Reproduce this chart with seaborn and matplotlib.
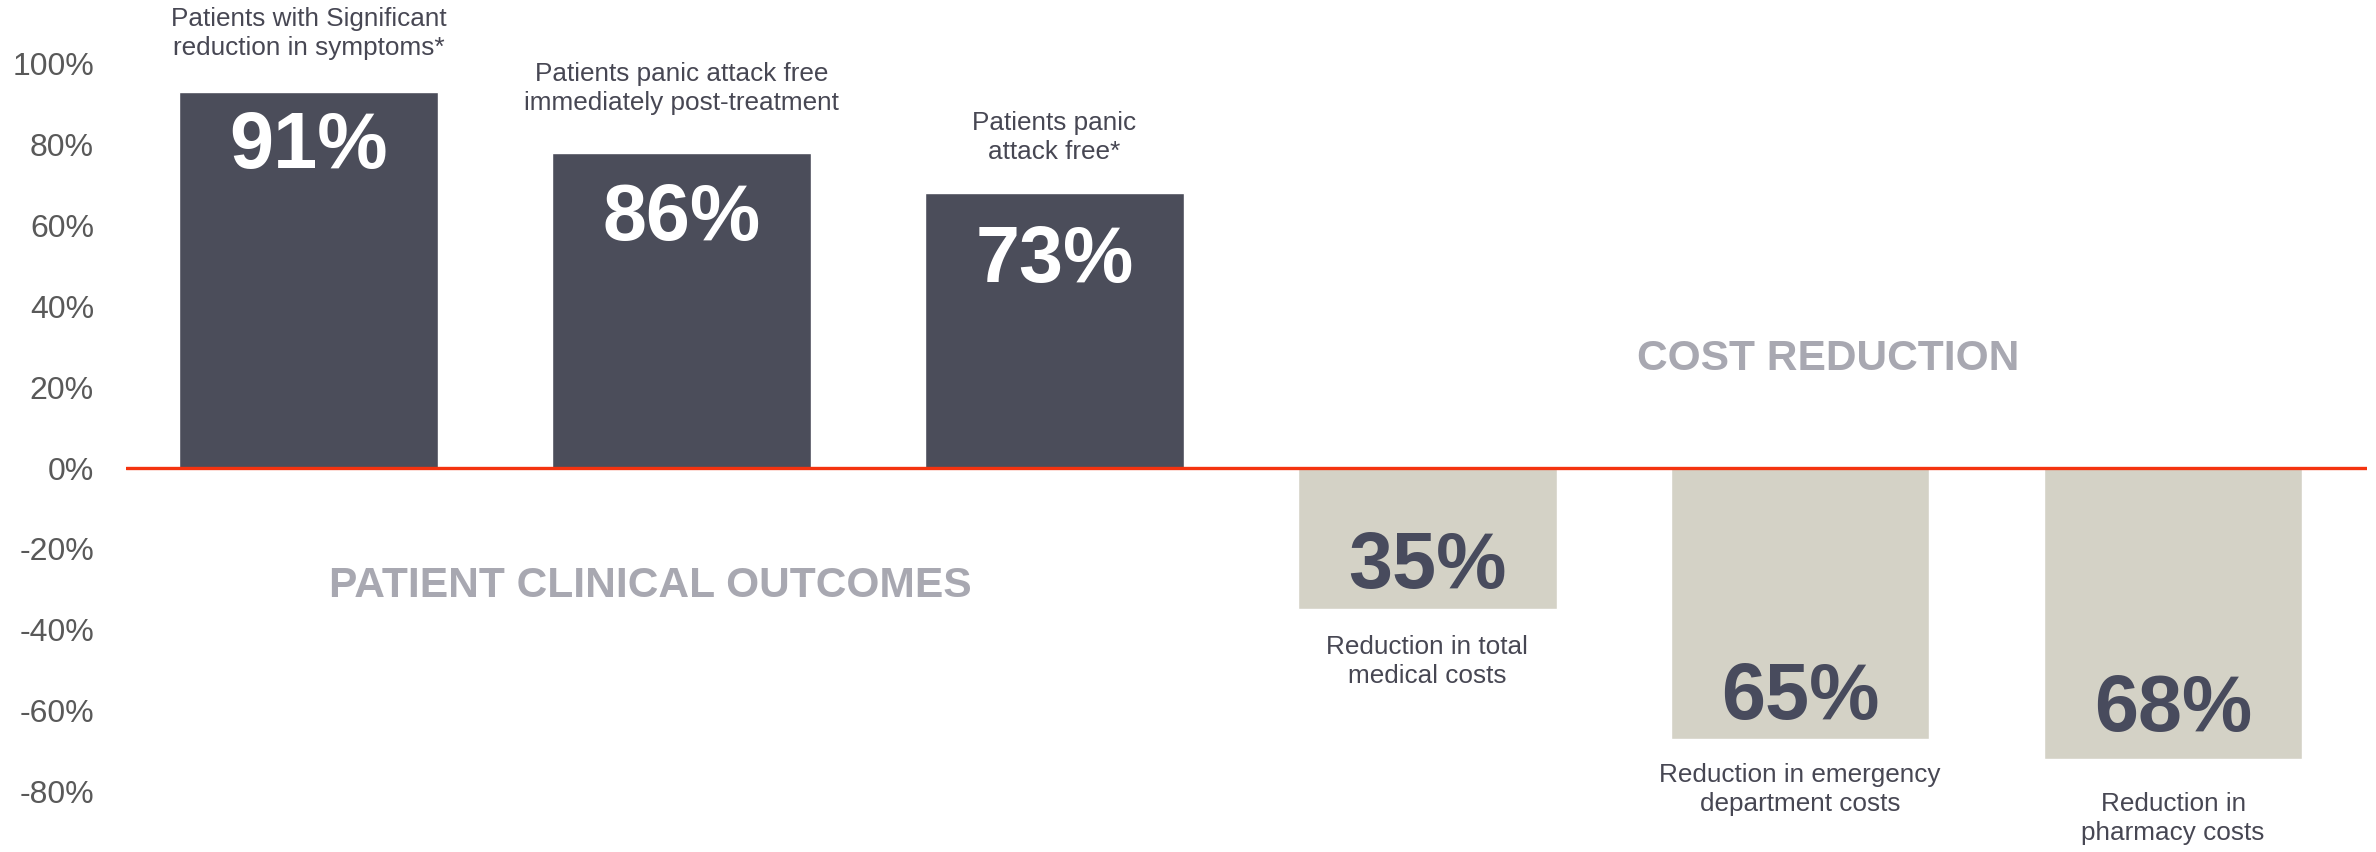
import matplotlib
matplotlib.use("Agg")
import matplotlib.pyplot as plt
import seaborn as sns
import pandas as pd

# ---- data ----
categories = [
    "Patients with Significant\nreduction in symptoms*",
    "Patients panic attack free\nimmediately post-treatment",
    "Patients panic\nattack free*",
    "Reduction in total\nmedical costs",
    "Reduction in emergency\ndepartment costs",
    "Reduction in\npharmacy costs",
]
bar_heights = [93, 78, 68, -35, -67, -72]          # drawn bar lengths (%)
value_labels = ["91%", "86%", "73%", "35%", "65%", "68%"]  # printed numbers
groups = ["clinical", "clinical", "clinical", "cost", "cost", "cost"]
yticks = [-80, -60, -40, -20, 0, 20, 40, 60, 80, 100]
section_titles = ["PATIENT CLINICAL OUTCOMES", "COST REDUCTION"]

# layout offsets (in axis units) for the in-bar numbers and the captions
num_off = [12.3, 15.0, 15.4, 12.0, 11.6, 13.5]
cap_off = [14.6, 15.9, 13.7, 12.9, 12.6, 14.8]

DARK = "#484B5D"
LIGHT = "#D6D3C4"
RED = "#F4330F"

sns.set_theme(style="white")
plt.rcParams["font.family"] = ["Liberation Sans", "DejaVu Sans"]

df = pd.DataFrame({"cat": categories, "h": bar_heights, "grp": groups})

fig = plt.figure(figsize=(23.76, 8.52), dpi=100)
ax = fig.add_axes([0.053, 0.0, 0.9432, 1.0])

sns.barplot(data=df, x="cat", y="h", hue="grp",
            palette={"clinical": DARK, "cost": LIGHT},
            width=0.693, dodge=False, legend=False, ax=ax, zorder=2)

ax.set_xlim(-0.49, 5.52)
ax.set_ylim(-95, 115.8)
ax.axhline(0, color=RED, lw=2.4, zorder=3)

for i, (h, lab, cat, g) in enumerate(zip(bar_heights, value_labels, categories, groups)):
    s = 1 if h > 0 else -1
    ax.text(i, h - s * num_off[i] - 1.5, lab, ha="center", va="center",
            fontsize=57, fontweight="bold",
            color="white" if g == "clinical" else DARK, zorder=4)
    ax.text(i, h + s * cap_off[i], cat, ha="center", va="center",
            fontsize=18.8, color="#474753", linespacing=1.25, zorder=4)

ax.text(0.916, -29.2, section_titles[0], ha="center", va="center",
        fontsize=30.6, fontweight="bold", color="#A8A8B1")
ax.text(4.074, 27.0, section_titles[1], ha="center", va="center",
        fontsize=30.6, fontweight="bold", color="#A8A8B1")

ax.set_yticks(yticks)
ax.set_yticklabels([f"{t}%" for t in yticks])
ax.tick_params(axis="y", length=0, pad=23, labelsize=23, labelcolor="#595959")
ax.set_xticks([])
ax.set_xlabel("")
ax.set_ylabel("")
for sp in ax.spines.values():
    sp.set_visible(False)

fig.savefig("out.png", dpi=100)
